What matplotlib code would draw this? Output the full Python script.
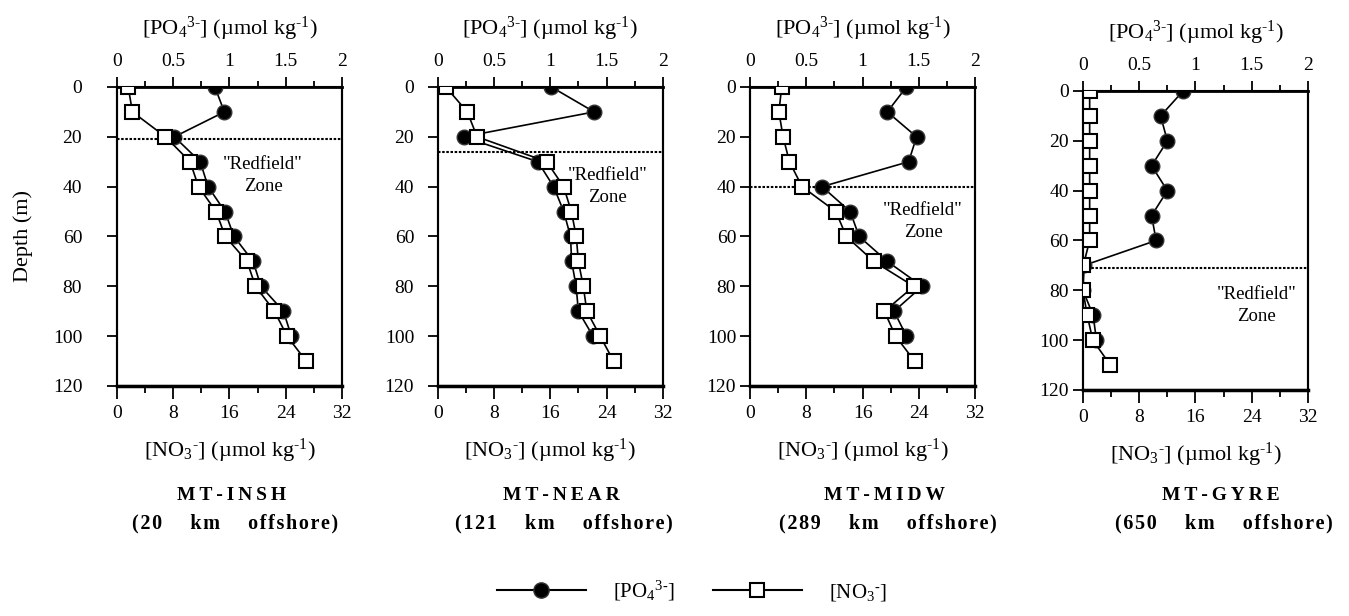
import matplotlib
matplotlib.use("Agg")
import matplotlib.pyplot as plt
from matplotlib.lines import Line2D
from matplotlib.ticker import MultipleLocator

plt.rcParams['font.family'] = ['Liberation Serif', 'DejaVu Serif']
plt.rcParams['mathtext.fontset'] = 'custom'
plt.rcParams['mathtext.rm'] = 'Liberation Serif'
plt.rcParams['mathtext.it'] = 'Liberation Serif:italic'
plt.rcParams['mathtext.bf'] = 'Liberation Serif:bold'

# depths (m)
depth_po4 = [0, 10, 20, 30, 40, 50, 60, 70, 80, 90, 100]
depth_no3 = [0, 10, 20, 30, 40, 50, 60, 70, 80, 90, 100, 110]

stations = ['MT-INSH', 'MT-NEAR', 'MT-MIDW', 'MT-GYRE']
offshore = ['(20    km    offshore)', '(121    km    offshore)',
            '(289    km    offshore)', '(650    km    offshore)']

# PO4 (umol/kg)
po4_insh = [0.87, 0.955, 0.51, 0.74, 0.81, 0.96, 1.04, 1.21, 1.28, 1.48, 1.55]
po4_near = [1.01, 1.39, 0.23, 0.89, 1.03, 1.12, 1.18, 1.19, 1.23, 1.25, 1.38]
po4_midw = [1.39, 1.22, 1.48, 1.41, 0.64, 0.89, 0.97, 1.22, 1.53, 1.28, 1.39]
po4_gyre = [0.89, 0.69, 0.75, 0.61, 0.75, 0.61, 0.65, 0.01, 0.0, 0.09, 0.12]

# NO3 (umol/kg)
no3_insh = [1.6, 2.2, 6.9, 10.4, 11.6, 14.1, 15.4, 18.5, 19.7, 22.4, 24.2, 26.9]
no3_near = [1.15, 4.2, 5.6, 15.5, 17.9, 19.0, 19.7, 20.0, 20.7, 21.2, 23.1, 25.0]
no3_midw = [4.5, 4.1, 4.7, 5.6, 7.4, 12.2, 13.7, 17.6, 23.3, 19.1, 20.7, 23.4]
no3_gyre = [0.95, 0.95, 0.95, 0.95, 0.95, 0.95, 0.95, 0.05, 0.0, 0.6, 1.4, 3.9]

# depth of the dotted "Redfield" boundary and where the label sits
boundary = [21, 26, 40, 71]
zone_x = [20.8, 24.2, 24.6, 24.7]
zone_y = [35.5, 40, 54, 86]

po4_all = [po4_insh, po4_near, po4_midw, po4_gyre]
no3_all = [no3_insh, no3_near, no3_midw, no3_gyre]

fig = plt.figure(figsize=(13.49, 6.16), dpi=100)

lefts = [0.0867, 0.3245, 0.556, 0.8028]
bottoms = [0.3734, 0.3734, 0.3734, 0.3669]
ypads = [18, 10, 3, 3]
title_x = [0.172, 0.416, 0.656, 0.905]
W, H = 0.1668, 0.4854

po4_label = r'[PO$_4$$^{3\text{-}}$] (µmol kg$^{\text{-}1}$)'
no3_label = r'[NO$_3$$^{\text{-}}$] (µmol kg$^{\text{-}1}$)'

for i in range(4):
    ax = fig.add_axes([lefts[i], bottoms[i], W, H])
    ax2 = ax.twiny()

    # PO4 on the main axes, shown on top
    ax.set_xlim(0, 2)
    ax.set_ylim(120, 0)
    ax.xaxis.tick_top()
    ax.xaxis.set_label_position('top')
    ax.set_xticks([0, 0.5, 1, 1.5, 2])
    ax.set_xticklabels(['0', '0.5', '1', '1.5', '2'])
    ax.xaxis.set_minor_locator(MultipleLocator(0.25))
    ax.yaxis.set_major_locator(MultipleLocator(20))
    ax.tick_params(axis='x', which='major', direction='out', length=7,
                   width=1.3, labelsize=14, pad=5)
    ax.tick_params(axis='x', which='minor', direction='out', length=4, width=1.3)
    ax.tick_params(axis='y', which='major', direction='out', length=7,
                   width=1.3, labelsize=14, pad=ypads[i], right=False)
    ax.set_xlabel(po4_label, fontsize=16, labelpad=13)
    for s in ax.spines.values():
        s.set_linewidth(1.5)
    ax.spines['top'].set_linewidth(2)
    ax.plot(po4_all[i], depth_po4, '-', color='black', lw=1.2,
            marker='o', ms=10.5, mfc='black', mec='#333333', mew=1, zorder=3)
    if i == 0:
        ax.set_ylabel('Depth (m)', fontsize=16, labelpad=14)

    # NO3 on the twin axes, shown at the bottom
    ax2.set_xlim(0, 32)
    ax2.set_ylim(120, 0)
    ax2.xaxis.tick_bottom()
    ax2.xaxis.set_label_position('bottom')
    ax2.set_xticks([0, 8, 16, 24, 32])
    ax2.xaxis.set_minor_locator(MultipleLocator(4))
    ax2.tick_params(axis='x', which='major', direction='out', length=9,
                    width=1.3, labelsize=14, pad=5)
    ax2.tick_params(axis='x', which='minor', direction='out', length=5, width=1.3)
    ax2.set_xlabel(no3_label, fontsize=16, labelpad=10)
    for s in ax2.spines.values():
        s.set_linewidth(1.5)
    ax2.spines['bottom'].set_linewidth(2.5)
    ax2.plot(no3_all[i], depth_no3, '-', color='black', lw=1.2,
             marker='s', ms=10, mfc='white', mec='black', mew=1.5, zorder=3)
    ax2.axhline(boundary[i], color='black', lw=1.5, ls=(0, (1.2, 0.8)))
    ax2.text(zone_x[i], zone_y[i], '"Redfield"\nZone', fontsize=13.5,
             ha='center', va='center', linespacing=1.35)

    fig.text(title_x[i], 0.195, '\u2009'.join(stations[i]), ha='center',
             va='center', fontsize=14, fontweight='bold')
    fig.text(title_x[i] + 0.002, 0.15, '\u200a'.join(offshore[i]), ha='center',
             va='center', fontsize=14.5, fontweight='bold')

h1 = Line2D([], [], color='black', lw=1.5, marker='o', ms=11, mfc='black',
            mec='#333333')
h2 = Line2D([], [], color='black', lw=1.5, marker='s', ms=10, mfc='white',
            mec='black', mew=1.5)
fig.legend([h1, h2], [r'[PO$_4$$^{3\text{-}}$]', r'[NO$_3$$^{\text{-}}$]'],
           loc='center', bbox_to_anchor=(0.513, 0.041), ncol=2, frameon=False,
           fontsize=15, handlelength=4.3, columnspacing=1.8, handletextpad=1.3)

fig.savefig('out.png', dpi=100)
